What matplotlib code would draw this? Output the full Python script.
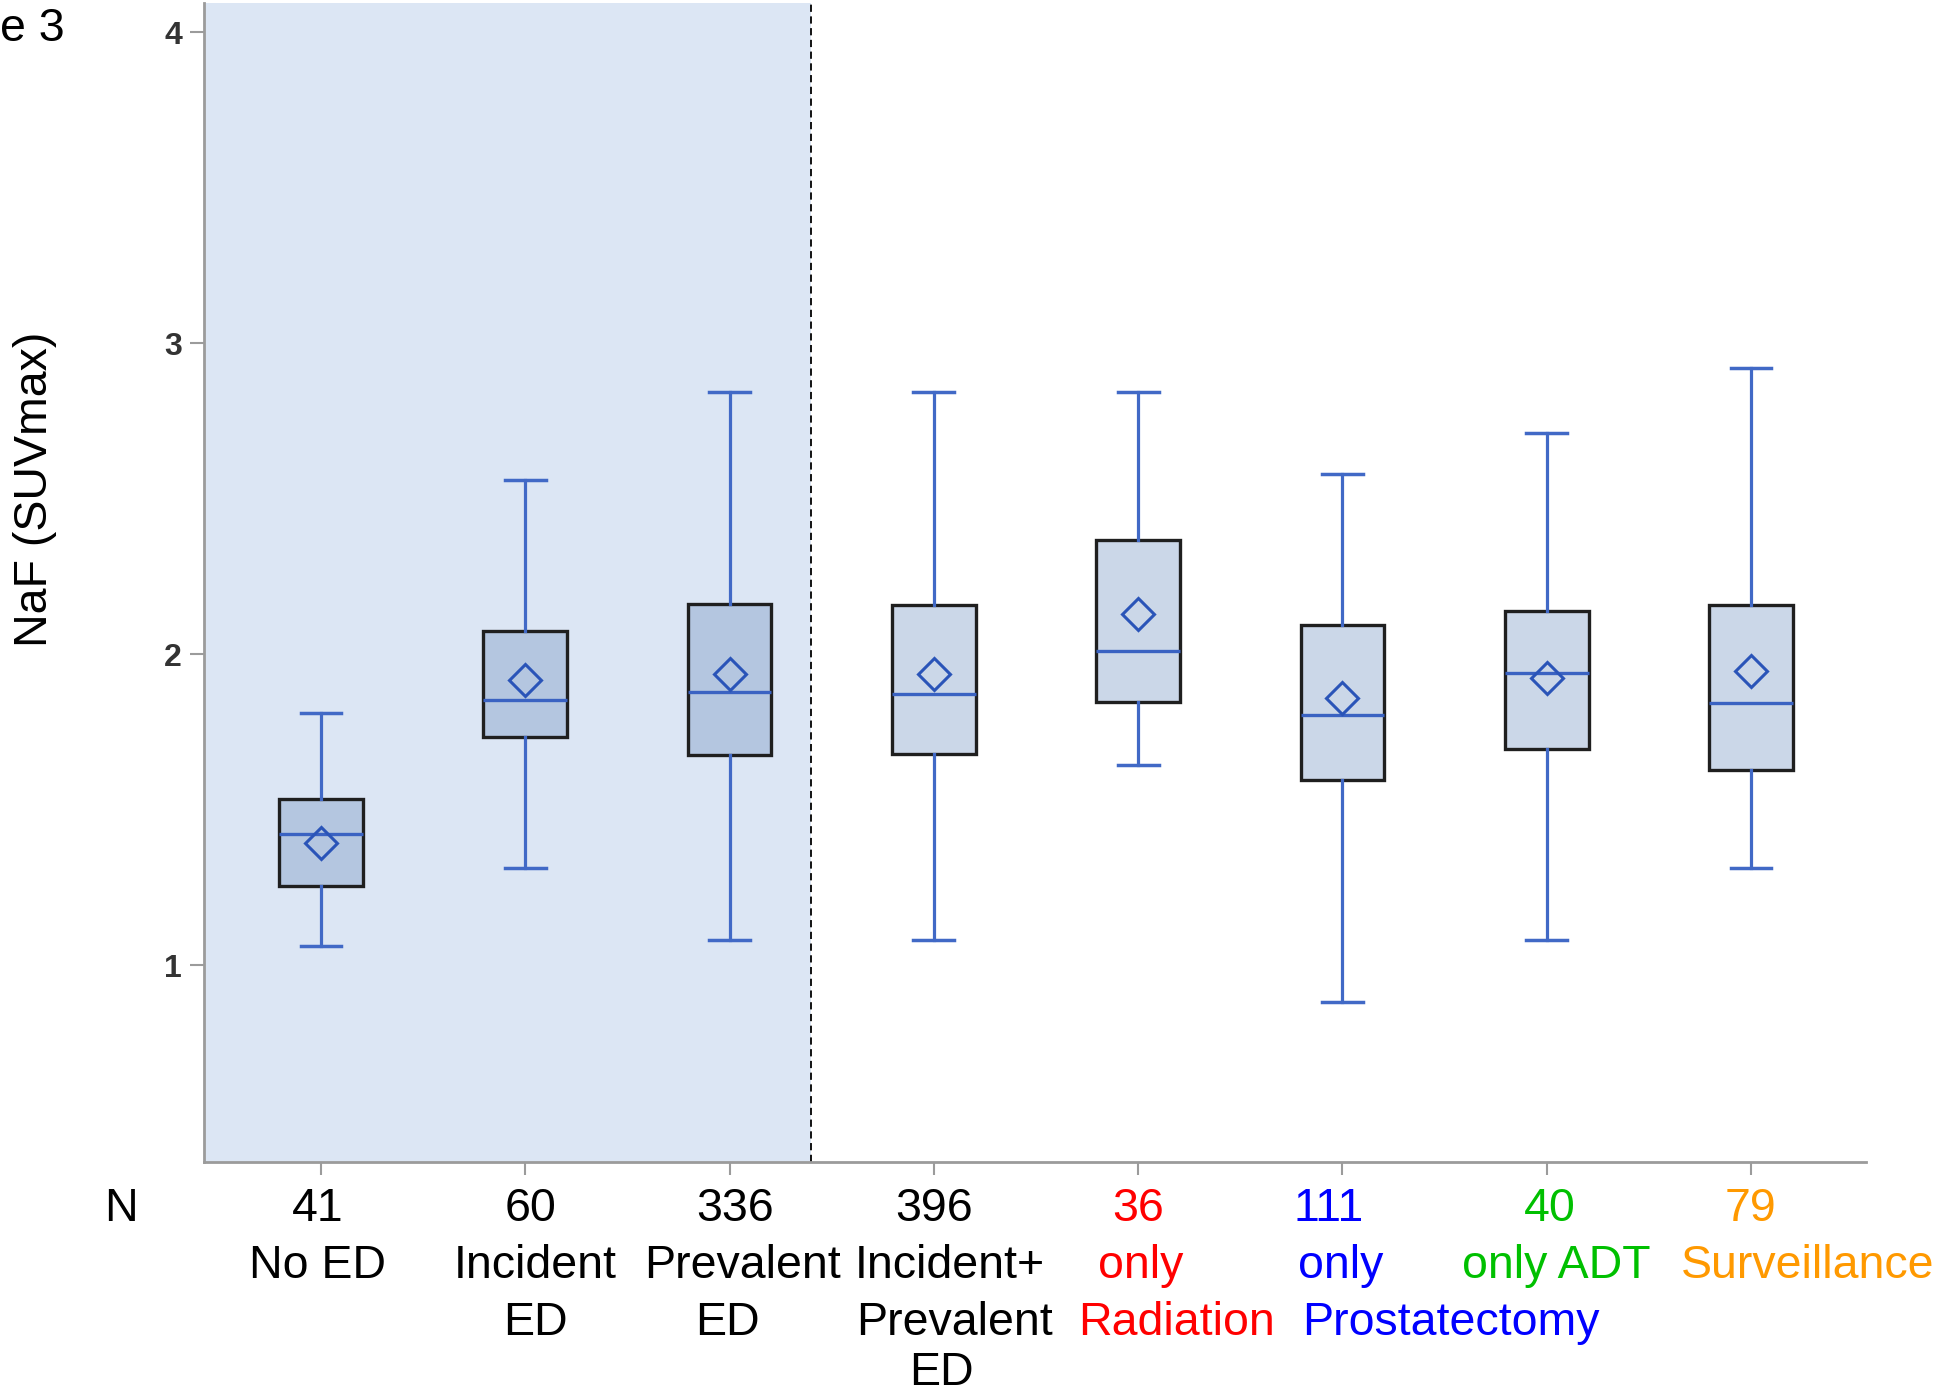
import matplotlib
matplotlib.use("Agg")
import matplotlib.pyplot as plt

plt.rcParams['font.family'] = ['Liberation Sans', 'DejaVu Sans']

# ---- data ----
groups = ["No ED", "Incident\nED", "Prevalent\nED", "Incident+\nPrevalent\nED",
          "only\nRadiation", "only\nProstatectomy", "only ADT", "Surveillance"]
counts = [41, 60, 336, 396, 36, 111, 40, 79]
label_colors = ["black", "black", "black", "black", "#FF0000", "#0000FF", "#00C000", "#FF9900"]
whisker_low = [1.063, 1.311, 1.080, 1.080, 1.644, 0.882, 1.080, 1.311]
q1 = [1.256, 1.733, 1.676, 1.678, 1.846, 1.596, 1.695, 1.628]
median = [1.422, 1.854, 1.880, 1.872, 2.011, 1.806, 1.941, 1.844]
mean = [1.392, 1.917, 1.937, 1.936, 2.129, 1.860, 1.925, 1.947]
q3 = [1.534, 2.076, 2.161, 2.159, 2.367, 2.094, 2.140, 2.159]
whisker_high = [1.811, 2.559, 2.843, 2.843, 2.843, 2.579, 2.711, 2.920]
y_ticks = [1, 2, 3, 4]

# ---- layout (text offsets relative to category positions) ----
count_dx = [-0.018, 0.026, 0.027, 0.0, 0.0, -0.066, 0.014, 0.0]
line_dx = [[-0.018], [0.05, 0.05], [0.064, -0.009], [0.077, 0.101, 0.035],
           [0.012, 0.188], [-0.011, 0.529], [0.045], [0.275]]
line_y = [-0.0512, -0.1004, -0.1496, -0.1925]

W, H = 1944, 1394
fig = plt.figure(figsize=(W / 100, H / 100), dpi=100)
ax = fig.add_axes([204 / W, 1 - 1161.7 / H, (1866 - 204) / W, 1158.7 / H])

positions = list(range(1, len(groups) + 1))
xlim = (0.427, 8.563)
split_x = 3.40
ax.set_xlim(*xlim)
ax.set_ylim(0.368, 4.094)

ax.axvspan(xlim[0], split_x, color='#DCE6F4', zorder=0, lw=0)
ax.axvline(split_x, color='black', lw=1.3, ls=(0, (4, 2.5)), zorder=1)

stats = []
for i in range(len(groups)):
    stats.append(dict(med=median[i], q1=q1[i], q3=q3[i], whislo=whisker_low[i],
                      whishi=whisker_high[i], mean=mean[i], fliers=[], label=''))

blue = '#4169C6'
ax.bxp(stats, positions=positions, widths=0.41, patch_artist=True,
       showmeans=True, showfliers=False, capwidths=0.2,
       boxprops=dict(facecolor=(0.41, 0.545, 0.737, 0.34), edgecolor='#1F1F1F', linewidth=2.4),
       whiskerprops=dict(color=blue, linewidth=2.3),
       capprops=dict(color=blue, linewidth=2.5),
       medianprops=dict(color='#3A62C2', linewidth=2.4),
       meanprops=dict(marker='D', markersize=16, markerfacecolor='none',
                      markeredgecolor='#2A54B8', markeredgewidth=2.2))

for s in ['top', 'right']:
    ax.spines[s].set_visible(False)
for s in ['left', 'bottom']:
    ax.spines[s].set_color('#9B9B9B')
    ax.spines[s].set_linewidth(2.0)
    ax.spines[s].set_zorder(3)

ax.set_yticks(y_ticks)
ax.set_yticklabels([str(t) for t in y_ticks], fontsize=23, fontweight='bold', color='#333333')
ax.tick_params(axis='y', length=10, width=1.5, color='#9B9B9B', pad=6)
ax.set_xticks(positions)
ax.set_xticklabels([''] * len(positions))
ax.tick_params(axis='x', length=9, width=1.5, color='#9B9B9B')

tr = ax.get_xaxis_transform()
fs = 33.5
ax.text(0.018, line_y[0], "N", transform=tr, ha='center', va='baseline', fontsize=fs,
        color='black', clip_on=False)
for i, p in enumerate(positions):
    ax.text(p + count_dx[i], line_y[0], str(counts[i]), transform=tr, ha='center',
            va='baseline', fontsize=fs, color=label_colors[i], clip_on=False)
    for j, line in enumerate(groups[i].split("\n")):
        ax.text(p + line_dx[i][j], line_y[j + 1], line, transform=tr, ha='center',
                va='baseline', fontsize=fs, color=label_colors[i], clip_on=False)

fig.text(34.7 / W, 1 - 489.7 / H, "NaF (SUVmax)", rotation=90, ha='center', va='center',
         fontsize=fs, color='black')
fig.text(0.0, 1 - 41 / H, "e 3", ha='left', va='baseline', fontsize=fs, color='black')

fig.savefig("out.png", dpi=100)
